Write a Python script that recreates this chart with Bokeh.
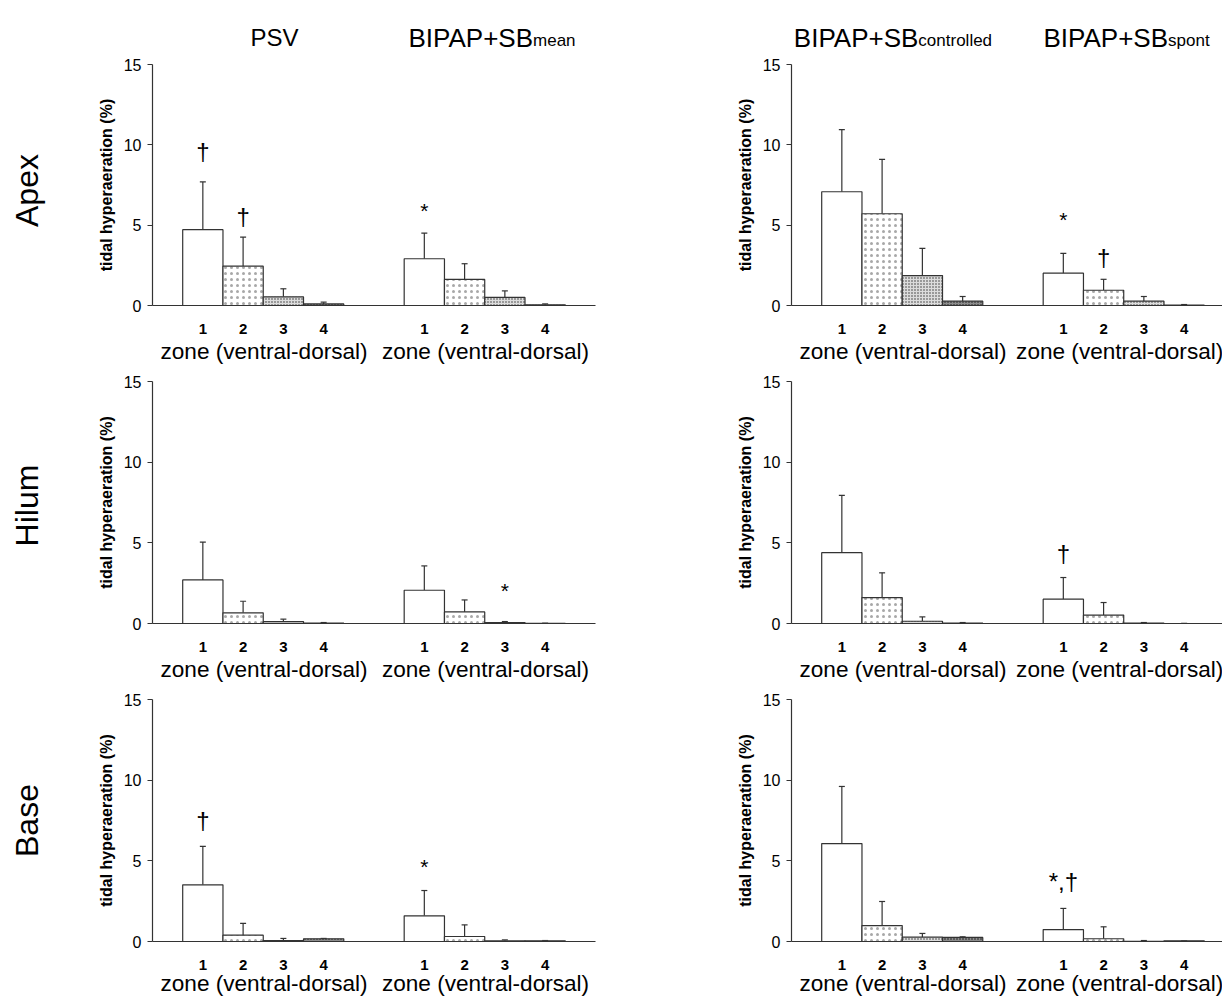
import numpy as np
from bokeh.plotting import figure
from bokeh.layouts import row, column
from bokeh.models import Range1d, FixedTicker, Label, Whisker, TeeHead, ColumnDataSource
from bokeh.core.properties import value
from bokeh.embed import file_html
from bokeh.resources import INLINE

# ---------------- data ----------------
zones = ["1", "2", "3", "4"]
regions = ["Apex", "Hilum", "Base"]
header_main = ["PSV", "BIPAP+SB", "BIPAP+SB", "BIPAP+SB"]
header_sub = ["", "mean", "controlled", "spont"]
zone_label = "zone (ventral-dorsal)"
y_label = "tidal hyperaeration (%)"
y_ticks = [0, 5, 10, 15]

# mean tidal hyperaeration (%) per region (Apex, Hilum, Base) and zone 1..4
psv_mean = [[4.72, 2.45, 0.54, 0.10], [2.70, 0.66, 0.12, 0.02], [3.51, 0.39, 0.06, 0.17]]
psv_sd = [[2.97, 1.81, 0.50, 0.11], [2.35, 0.72, 0.15, 0.04], [2.38, 0.73, 0.13, 0.02]]
sbmean_mean = [[2.91, 1.62, 0.50, 0.04], [2.06, 0.72, 0.06, 0.01], [1.59, 0.31, 0.04, 0.04]]
sbmean_sd = [[1.60, 0.98, 0.41, 0.06], [1.51, 0.74, 0.06, 0.01], [1.57, 0.72, 0.06, 0.02]]
sbctrl_mean = [[7.08, 5.71, 1.86, 0.27], [4.39, 1.61, 0.14, 0.02], [6.07, 0.99, 0.27, 0.25]]
sbctrl_sd = [[3.87, 3.39, 1.70, 0.29], [3.55, 1.53, 0.27, 0.04], [3.54, 1.49, 0.23, 0.04]]
sbspont_mean = [[2.01, 0.95, 0.27, 0.02], [1.51, 0.52, 0.02, 0.00], [0.74, 0.17, 0.01, 0.04]]
sbspont_sd = [[1.24, 0.68, 0.29, 0.04], [1.34, 0.78, 0.04, 0.01], [1.31, 0.74, 0.05, 0.00]]

# significance markers: region index, mode index, zone index, symbol, height
marker_region = [0, 0, 0, 0, 0, 1, 1, 2, 2, 2]
marker_mode = [0, 0, 1, 3, 3, 1, 3, 0, 1, 3]
marker_zone = [0, 1, 0, 0, 1, 2, 0, 0, 0, 0]
marker_text = ["†", "†", "*", "*", "†", "*", "†", "†", "*", "*,†"]
marker_y = [9.56, 5.55, 6.0, 5.42, 2.96, 2.13, 4.33, 7.52, 4.69, 3.70]

means = [psv_mean, sbmean_mean, sbctrl_mean, sbspont_mean]
sds = [psv_sd, sbmean_sd, sbctrl_sd, sbspont_sd]

# ---------------- style / geometry ----------------
FONT = "Liberation Sans"
AX = "#333333"
XS = 40.27                      # px per x unit
group_start = [0.75, 6.25]
# (canvas top, y=15 pixel, y=0 pixel, canvas bottom) per row
row_geom = [(0, 64, 305, 367), (367, 381, 623, 685), (685, 699, 941, 998)]
# (canvas left, axis pixel, canvas right) per side
col_geom = [(0, 152, 640), (640, 791, 1222)]

zone_style = [
    dict(fill_color="white"),
    dict(fill_color="white", hatch_pattern="dot", hatch_scale=6, hatch_color="#a8a8a8"),
    dict(fill_color="#dcdcdc", hatch_pattern="dot", hatch_scale=3, hatch_color="#333333"),
    dict(fill_color="#8c8c8c", hatch_pattern="dot", hatch_scale=3, hatch_color="#111111"),
]


def make_panel(r, side):
    ctop, y15, y0, cbot = row_geom[r]
    cleft, xax, cright = col_geom[side]
    ys = (y0 - y15) / 15.0
    x_start = -(xax - cleft) / XS
    x_end = (cright - xax) / XS
    y_start = -(cbot - y0) / ys
    y_end = 15 + (y15 - ctop) / ys
    axis_end = 11.0 if side == 0 else x_end

    p = figure(x_range=Range1d(x_start, x_end), y_range=Range1d(y_start, y_end),
               frame_width=cright - cleft, frame_height=cbot - ctop,
               min_border=0, min_border_left=0, min_border_right=0,
               min_border_top=0, min_border_bottom=0,
               output_backend="svg", toolbar_location=None, tools="")
    p.outline_line_color = None
    p.xgrid.visible = False
    p.ygrid.visible = False
    p.background_fill_color = "white"
    p.border_fill_color = "white"

    centers = []
    labels = {}
    for g in range(2):
        m = side * 2 + g
        for z in range(4):
            c = group_start[g] + z + 0.5
            centers.append(c)
            labels[c] = zones[z]
            st = zone_style[z]
            src = ColumnDataSource(dict(x=[c], top=[means[m][r][z]],
                                        err=[means[m][r][z] + sds[m][r][z]]))
            p.vbar(x="x", top="top", bottom=0, width=1.0, source=src,
                   line_color=AX, line_width=1.2, **st)
            w = Whisker(source=src, base="x", lower="top", upper="err",
                        line_color=AX, line_width=1.2, lower_head=None,
                        upper_head=TeeHead(size=6, line_color=AX, line_width=1.2))
            p.add_layout(w)
        # zone label under each group
        zl_y = -(42 if r == 2 else 46) / ys
        zl_x = group_start[g] + 2.02
        if side == 1 and g == 1:
            zl_x = group_start[g] + 1.9
        p.add_layout(Label(x=zl_x, y=zl_y, text=zone_label,
                           text_align="center", text_baseline="middle",
                           text_font=FONT, text_font_size="22.6px", text_color="black"))
        # headers (top row only)
        if r == 0:
            hy = 15 + 27 / ys
            if header_sub[m]:
                xe = [None, 9.45, 3.15, 9.35][m]
                p.add_layout(Label(x=xe, y=hy, text=header_main[m], text_align="right",
                                   text_baseline="alphabetic", text_font=FONT,
                                   text_font_size="26px", text_color="black"))
                p.add_layout(Label(x=xe, y=hy - 2.5 / ys, text=header_sub[m], text_align="left",
                                   text_baseline="alphabetic", text_font=FONT,
                                   text_font_size="17px", text_color="black"))
            else:
                p.add_layout(Label(x=3.03, y=hy, text=header_main[m], text_align="center",
                                   text_baseline="alphabetic", text_font=FONT,
                                   text_font_size="24px", text_color="black"))

    # significance markers
    for i in range(len(marker_text)):
        if marker_region[i] != r or marker_mode[i] // 2 != side:
            continue
        g = marker_mode[i] % 2
        c = group_start[g] + marker_zone[i] + 0.5
        txt = marker_text[i]
        star = txt == "*"
        p.text(x=[c], y=[marker_y[i]], text=[txt], text_align="center",
               text_baseline="middle", text_font=value(FONT),
               text_font_size="21px" if star else "24px", text_color="black",
               y_offset=1 if star else 0)

    # row label
    if side == 0:
        cy = [190, 505, 820][r]
        p.add_layout(Label(x=(26 - xax) / XS, y=(y0 - cy) / ys, text=regions[r], angle=np.pi / 2,
                           text_align="center", text_baseline="middle", text_font=FONT,
                           text_font_size="32px", text_color="black"))

    # axes (placed at the data origin)
    xa = p.xaxis[0]
    xa.fixed_location = 0
    xa.bounds = (0, axis_end)
    xa.ticker = FixedTicker(ticks=centers)
    xa.major_label_overrides = labels
    xa.major_tick_out = 0
    xa.major_tick_in = 0
    xa.minor_tick_out = 0
    xa.minor_tick_in = 0
    xa.axis_line_color = AX
    xa.axis_line_width = 1.2
    xa.major_label_standoff = 18
    xa.major_label_text_font = FONT
    xa.major_label_text_font_size = "15px"
    xa.major_label_text_font_style = "bold"
    xa.major_label_text_color = "black"

    ya = p.yaxis[0]
    ya.fixed_location = 0
    ya.bounds = (0, 15)
    ya.ticker = FixedTicker(ticks=y_ticks)
    ya.major_tick_out = 5
    ya.major_tick_in = 0
    ya.minor_tick_out = 0
    ya.minor_tick_in = 0
    ya.axis_line_color = AX
    ya.axis_line_width = 1.2
    ya.major_tick_line_color = AX
    ya.major_label_standoff = 6
    ya.major_label_text_font = FONT
    ya.major_label_text_font_size = "16px"
    ya.major_label_text_color = "black"
    ya.axis_label = y_label
    ya.axis_label_text_font = FONT
    ya.axis_label_text_font_size = "16px"
    ya.axis_label_text_font_style = "bold"
    ya.axis_label_text_color = "black"
    ya.axis_label_standoff = 6
    return p


rows = []
for r in range(3):
    rows.append(row(make_panel(r, 0), make_panel(r, 1), spacing=0))
layout = column(*rows, spacing=0)

open("out.html", "w").write(file_html(layout, INLINE))
